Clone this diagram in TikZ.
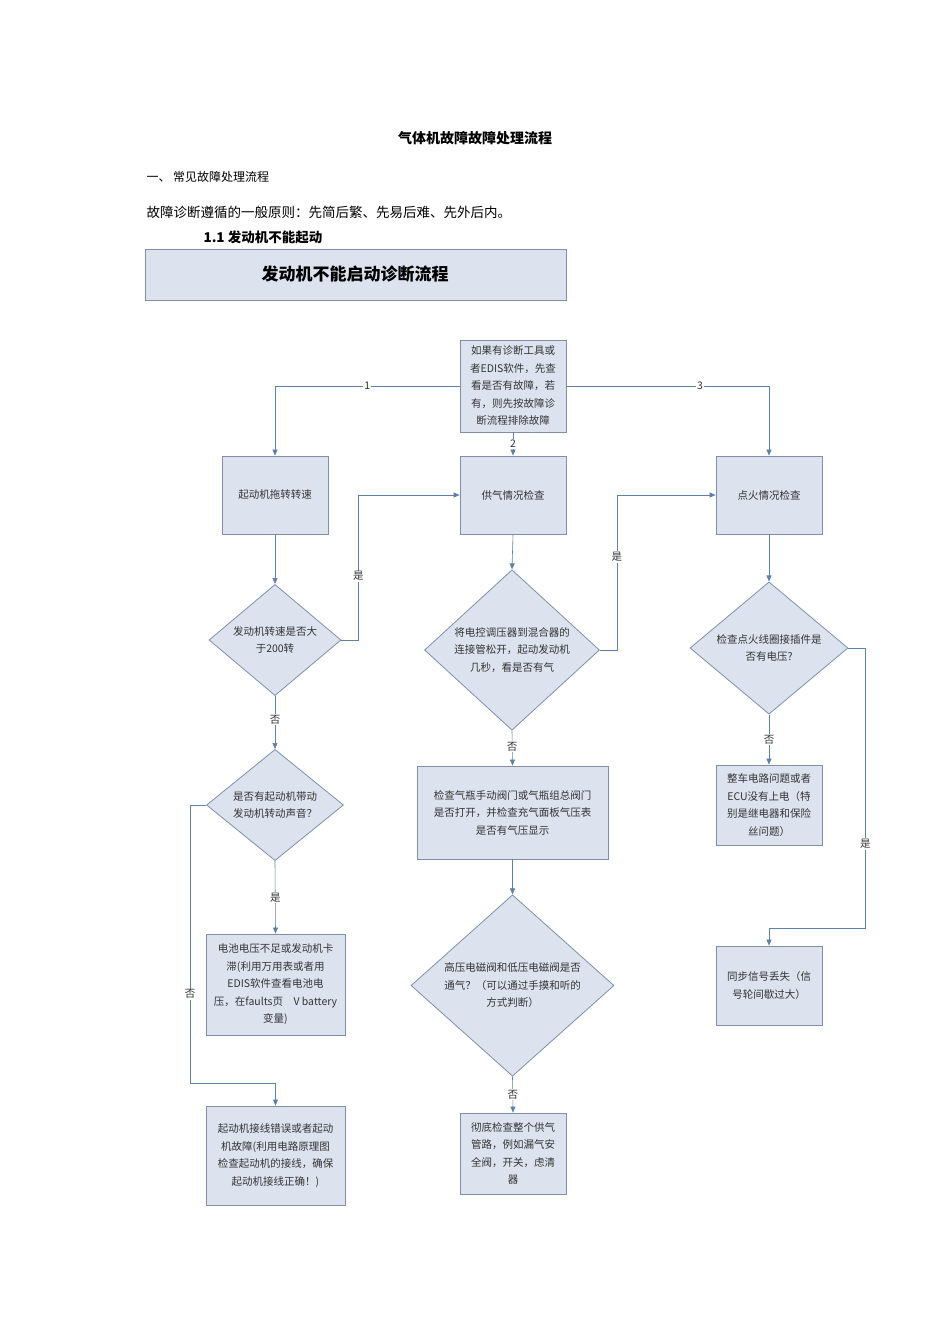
\documentclass[tikz,border=0pt]{standalone}
\usepackage{fontspec}
\setmainfont{Noto Sans CJK SC}
\usetikzlibrary{arrows.meta,shapes.geometric}
\definecolor{bfill}{HTML}{DCE3EF}
\definecolor{bdraw}{HTML}{7F8FA8}
\definecolor{arr}{HTML}{4F81BD}
\begin{document}
\begin{tikzpicture}[x=1pt,y=-1pt,
  bx/.style={draw=bdraw,fill=bfill,line width=0.8pt},
  tx/.style={font=\fontsize{10.5}{17.5}\selectfont,align=center,text=black!80},
  ln/.style={draw=arr!70!gray,line width=0.6pt},
  ar/.style={ln,-{Triangle[length=6pt,width=5pt]}},
  lb/.style={fill=white,inner sep=1pt,font=\fontsize{10.5}{12}\selectfont,text=black!80}]
\useasboundingbox (0,0) rectangle (950,1344);
\node (title) at (475,138) {\fontsize{14}{16}\selectfont\bfseries 气体机故障故障处理流程};
\node[anchor=west] (h1) at (143,177) {\fontsize{12}{14}\selectfont 一、 常见故障处理流程};
\node[anchor=west] (h2) at (143,212) {\fontsize{13.5}{16}\selectfont 故障诊断遵循的一般原则：先简后繁、先易后难、先外后内。};
\node[anchor=west] (h3) at (200,237) {\fontsize{13.5}{16}\selectfont\bfseries 1.1 发动机不能起动};
\draw[bx] (145,249) rectangle (566,300);
\node (hdr) at (355,274) {\fontsize{17}{20}\selectfont\bfseries 发动机不能启动诊断流程};
% boxes
\node[bx,tx,minimum width=106pt,minimum height=92pt,inner sep=1pt] (b0) at (513,386) {如果有诊断工具或\\者EDIS软件，先查\\看是否有故障，若\\有，则先按故障诊\\断流程排除故障};
\node[bx,tx,minimum width=106pt,minimum height=78pt] (b1) at (275,495) {起动机拖转转速};
\node[bx,tx,minimum width=106pt,minimum height=78pt] (b2) at (513,495) {供气情况检查};
\node[bx,tx,minimum width=106pt,minimum height=78pt] (b3) at (769,495) {点火情况检查};
\node[bx,diamond,tx,minimum width=132pt,minimum height=100pt,inner sep=0pt] (d1) at (275,640) {发动机转速是否大\\于200转};
\node[bx,diamond,tx,minimum width=175pt,minimum height=125pt,inner sep=0pt] (d2) at (512,650) {将电控调压器到混合器的\\连接管松开，起动发动机\\几秒，看是否有气};
\node[bx,diamond,tx,minimum width=158pt,minimum height=113pt,inner sep=0pt] (d3) at (769,648) {检查点火线圈接插件是\\否有电压?};
\node[bx,diamond,tx,minimum width=137pt,minimum height=100pt,inner sep=0pt] (d4) at (275,805) {是否有起动机带动\\发动机转动声音？};
\node[bx,tx,minimum width=139pt,minimum height=101pt,inner sep=1pt] (b4) at (275.5,984.5) {电池电压不足或发动机卡\\滞(利用万用表或者用\\EDIS软件查看电池电\\压，在faults页　V battery\\变量)};
\node[bx,tx,minimum width=139pt,minimum height=99pt,inner sep=1pt] (b5) at (275.5,1155.5) {起动机接线错误或者起动\\机故障(利用电路原理图\\检查起动机的接线，确保\\起动机接线正确！)};
\node[bx,tx,minimum width=191pt,minimum height=93pt] (b6) at (512.5,812.5) {检查气瓶手动阀门或气瓶组总阀门\\是否打开，并检查充气面板气压表\\是否有气压显示};
\node[bx,diamond,tx,minimum width=203pt,minimum height=149pt,inner sep=0pt] (d5) at (512.5,985.5) {高压电磁阀和低压电磁阀是否\\通气？（可以通过手摸和听的\\方式判断）};
\node[bx,tx,minimum width=106pt,minimum height=81pt,inner sep=1pt] (b7) at (513,1153.5) {彻底检查整个供气\\管路，例如漏气安\\全阀，开关，虑清\\器};
\node[bx,tx,minimum width=106pt,minimum height=80pt,inner sep=1pt] (b8) at (769,805) {整车电路问题或者\\ECU没有上电（特\\别是继电器和保险\\丝问题）};
\node[bx,tx,minimum width=106pt,minimum height=79pt] (b9) at (769,985.5) {同步信号丢失（信\\号轮间歇过大）};
% connectors
\draw[ar] (b0.west) -| node[lb,pos=0.25]{1} (b1.north);
\draw[ar] (b0.east) -| node[lb,pos=0.33]{3} (b3.north);
\draw[ar] (b0.south) -- node[lb]{2} (b2.north);
\draw[ar] (b1.south) -- (d1.north);
\draw[ar] (d1.east) -- ++(17,0) |- node[lb,pos=0.22]{是} (b2.west);
\draw[ar] (b2.south) -- (d2.north);
\draw[ar] (d2.east) -- ++(17,0) |- node[lb,pos=0.3]{是} (b3.west);
\draw[ar] (b3.south) -- (d3.north);
\draw[ar] (d3.east) -- ++(17,0) -- ++(0,280) node[lb,pos=0.7]{是} -| (b9.north);
\draw[ar] (d1.south) -- node[lb,pos=0.45]{否} (d4.north);
\draw[ar] (d4.south) -- node[lb,pos=0.5]{是} (b4.north);
\draw[ar] (d4.west) -- ++(-16,0) -- ++(0,278) node[lb,pos=0.68]{否} -| (b5.north);
\draw[ar] (d2.south) -- node[lb,pos=0.45]{否} (b6.north);
\draw[ar] (b6.south) -- (d5.north);
\draw[ar] (d5.south) -- node[lb,pos=0.5]{否} (b7.north);
\draw[ar] (d3.south) -- node[lb,pos=0.5]{否} (b8.north);
\end{tikzpicture}
\end{document}
